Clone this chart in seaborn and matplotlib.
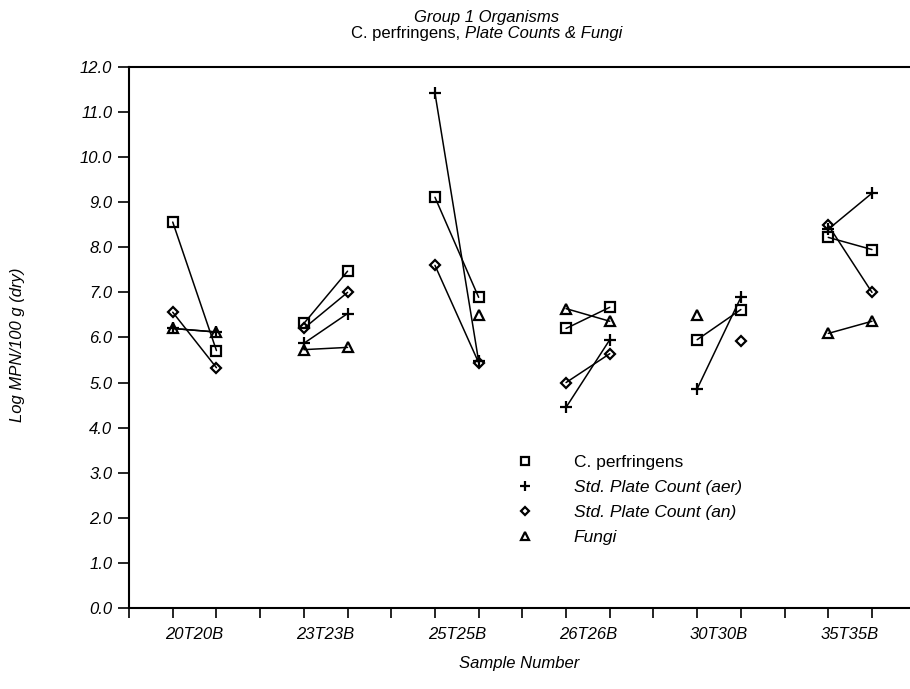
import matplotlib
matplotlib.use('Agg')
import numpy as np
import pandas as pd
import matplotlib.pyplot as plt
import seaborn as sns

samples = ["20T", "20B", "23T", "23B", "25T", "25B",
           "26T", "26B", "30T", "30B", "35T", "35B"]
groups = ["20T20B", "23T23B", "25T25B", "26T26B", "30T30B", "35T35B"]

cperf = [8.56, 5.71, 6.31, 7.47, 9.11, 6.89, 6.20, 6.67, 5.95, 6.62, 8.22, 7.95]
spc_aer = [6.20, 6.12, 5.87, 6.53, 11.42, 5.47, 4.45, 5.95, 4.86, 6.89, 8.40, 9.20]
spc_an = [6.56, 5.33, 6.20, 7.00, 7.60, 5.44, 5.00, 5.64, np.nan, 5.93, 8.49, 7.00]
fungi = [6.20, 6.12, 5.73, 5.78, np.nan, 6.49, 6.64, 6.36, 6.49, np.nan, 6.09, 6.36]

series = {
    "C. perfringens": (cperf, "s", 7),
    "Std. Plate Count (aer)": (spc_aer, "+", 9),
    "Std. Plate Count (an)": (spc_an, "D", 5.5),
    "Fungi": (fungi, "^", 7),
}

sns.set_style("ticks")
plt.rcParams['font.family'] = ['Liberation Sans', 'DejaVu Sans']
for k in ['text.color', 'axes.labelcolor', 'xtick.color', 'ytick.color', 'axes.edgecolor']:
    plt.rcParams[k] = 'black'

# T sample at 3i+1, B sample at 3i+2
pos = [3 * (k // 2) + 1 + k % 2 for k in range(len(samples))]

fig = plt.figure(figsize=(9.1, 6.89), dpi=100)
ax = fig.add_axes([0.1418, 0.1176, 0.8582, 0.7852])

handles = []
for name, (vals, mk, ms) in series.items():
    df = pd.DataFrame({"x": pos, "y": vals, "pair": [k // 2 for k in range(len(samples))]})
    df = df.dropna()
    sns.lineplot(data=df, x="x", y="y", units="pair", estimator=None, ax=ax,
                 color="black", lw=1.1, marker=mk, markersize=ms,
                 markerfacecolor="none", markeredgecolor="black",
                 markeredgewidth=1.6, sort=False)
    h, = ax.plot([], [], ls="none", marker=mk, markersize=ms * 0.75,
                 markerfacecolor="none", markeredgecolor="black",
                 markeredgewidth=1.6, label=name)
    handles.append(h)

ax.set_xlim(0, 17.87)
ax.set_ylim(0, 12)
ax.set_yticks(np.arange(0, 12.1, 1.0))
ax.set_yticklabels([f"{v:.1f}" for v in np.arange(0, 12.1, 1.0)],
                   fontstyle="italic", fontsize=12)
ax.set_xticks([3 * i + 1.5 for i in range(len(groups))])
ax.set_xticklabels(groups, fontstyle="italic", fontsize=12)
ax.set_xticks(np.arange(0, 18, 1), minor=True)
ax.tick_params(axis="x", which="major", length=0, pad=14)
ax.tick_params(axis="x", which="minor", length=7, width=1.2, direction="out")
ax.tick_params(axis="y", length=8, width=1.2, direction="out", pad=4)

for s in ["left", "bottom", "top"]:
    ax.spines[s].set_linewidth(1.5)
ax.spines["right"].set_visible(False)

ax.set_xlabel("Sample Number", fontstyle="italic", fontsize=12, labelpad=10)
ax.set_ylabel("Log MPN/100 g (dry)", fontstyle="italic", fontsize=12)
ax.yaxis.set_label_coords(0.028, 0.5, transform=fig.transFigure)

fig.text(0.535, 0.974, "Group 1 Organisms", ha="center", va="center",
         fontstyle="italic", fontsize=12)
# second title line: plain part then italic part, centred together
t1 = fig.text(0, 0.952, "C. perfringens, ", ha="left", va="center", fontsize=12)
t2 = fig.text(0, 0.952, "Plate Counts & Fungi", ha="left", va="center",
              fontsize=12, fontstyle="italic")
fig.canvas.draw()
r = fig.canvas.get_renderer()
w1 = t1.get_window_extent(r).width / fig.bbox.width
w2 = t2.get_window_extent(r).width / fig.bbox.width
x0 = 0.535 - (w1 + w2) / 2
t1.set_x(x0)
t2.set_x(x0 + w1)

leg = ax.legend(handles=handles, loc="upper left", bbox_to_anchor=(0.487, 0.295),
                frameon=False, handlelength=1.0, handletextpad=2.3,
                labelspacing=0.55, fontsize=12.5, borderaxespad=0)
for i, t in enumerate(leg.get_texts()):
    if i > 0:
        t.set_fontstyle("italic")

fig.savefig("out.png", dpi=100)
